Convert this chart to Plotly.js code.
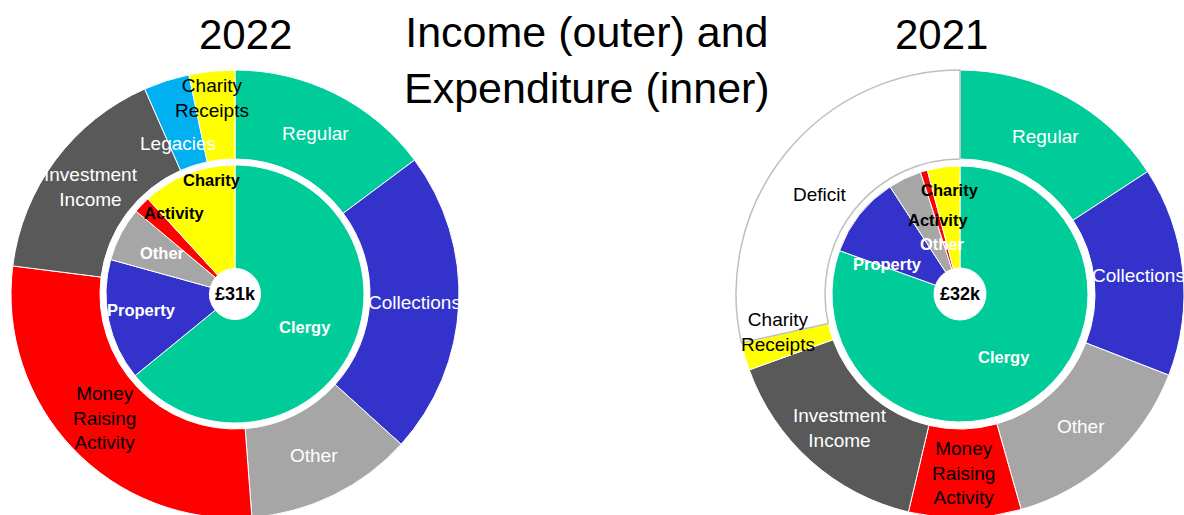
<!DOCTYPE html>
<html><head><meta charset="utf-8">
<script src="https://cdn.plot.ly/plotly-3.0.1.min.js"></script>
<style>
html,body{margin:0;padding:0;background:#fff;overflow:hidden}
#wrap{width:1184px;height:515px;overflow:hidden;position:relative}
#chart{width:1184px;height:540px}
</style>
</head><body><div id="wrap"><div id="chart"></div></div>
<script>
// ---------- data (shares of each ring, %) ----------
const years = ['2022', '2021'];
const totals = ['£31k', '£32k'];

const outerLabels2022 = ['Regular', 'Collections', 'Other', 'Money<br>Raising<br>Activity', 'Investment<br>Income', 'Legacies', 'Charity<br>Receipts'];
const outerValues2022 = [14.8, 21.9, 12.1, 28.2, 16.4, 3.3, 3.3];
const innerLabels2022 = ['Clergy', 'Property', 'Other', 'Activity', 'Charity'];
const innerValues2022 = [64.1, 15.2, 6.8, 2.1, 11.8];

const outerLabels2021 = ['Regular', 'Collections', 'Other', 'Money<br>Raising<br>Activity', 'Investment<br>Income', 'Charity<br>Receipts', 'Deficit'];
const outerValues2021 = [15.8, 15.1, 14.7, 8.1, 15.8, 2.0, 28.5];
const innerLabels2021 = ['Clergy', 'Property', 'Other', 'Activity', 'Charity'];
const innerValues2021 = [80.5, 10.3, 4.2, 0.9, 4.1];

// ---------- styles ----------
const COL = {
  'Regular': '#00CC99', 'Collections': '#3333CC', 'Other': '#A6A6A6',
  'Money Raising Activity': '#FF0000', 'Investment Income': '#595959',
  'Legacies': '#00B0F0', 'Charity Receipts': '#FFFF00', 'Deficit': '#FFFFFF',
  'Clergy': '#00CC99', 'Property': '#3333CC', 'Activity': '#FF0000', 'Charity': '#FFFF00'
};
const DARK_TEXT = ['Money Raising Activity', 'Charity Receipts', 'Deficit', 'Activity', 'Charity'];

const W = 1184, H = 540;
const FONT = '"Liberation Sans", Arial, sans-serif';
const geom = [
  {cx: 235, cy: 294, R: 224, Rin: 135, r: 129, rh: 25.5},
  {cx: 960, cy: 294, R: 224, Rin: 135, r: 128, rh: 26}
];
// manual label nudges (px), as in the original layout
const nudge = [
  {outer: {'Legacies': [-2, 20], 'Charity Receipts': [-4, -17]},
   inner: {'Property': [-18, 0], 'Other': [-4, -5], 'Activity': [-5, -28], 'Charity': [5, -42]}},
  {outer: {'Charity Receipts': [-10, -12], 'Deficit': [0, 13]},
   inner: {'Property': [-12, 18], 'Other': [16, 19], 'Charity': [0, -28]}}
];

const plain = s => s.replace(/<br>/g, ' ');
const px2x = x => x / W, px2y = y => 1 - y / H;

function domainFor(cx, cy, r) {
  return {x: [px2x(cx - r), px2x(cx + r)], y: [px2y(cy + r), px2y(cy - r)]};
}

function pieTrace(labels, values, g, outer) {
  const names = labels.map(plain);
  const rr = outer ? g.R : g.r;
  return {
    type: 'pie', labels: names, values: values, sort: false, direction: 'clockwise', rotation: 0,
    hole: outer ? g.Rin / g.R : g.rh / g.r,
    domain: domainFor(g.cx, g.cy, rr),
    textinfo: 'none', textposition: 'none', hoverinfo: 'label+percent', showlegend: false,
    marker: {
      colors: names.map(n => COL[n]),
      line: {color: names.map(n => n === 'Deficit' ? '#BFBFBF' : '#FFFFFF'),
             width: names.map(n => n === 'Deficit' ? 1.5 : 1)}
    }
  };
}

function labelAnns(labels, values, g, outer, nd) {
  const total = values.reduce((a, b) => a + b, 0);
  const rm = outer ? (g.R + g.Rin) / 2 : (g.r + g.rh) / 2;
  let cum = 0;
  return labels.map((lab, i) => {
    const mid = (cum + values[i] / 2) / total * 2 * Math.PI;
    cum += values[i];
    const n = nd[plain(lab)] || [0, 0];
    const x = g.cx + rm * Math.sin(mid) + n[0];
    const y = g.cy - rm * Math.cos(mid) + n[1];
    const dark = DARK_TEXT.includes(plain(lab));
    return {
      xref: 'paper', yref: 'paper', x: px2x(x), y: px2y(y), xanchor: 'center', yanchor: 'middle',
      text: outer ? lab : '<b>' + lab + '</b>', showarrow: false,
      font: {family: FONT, size: outer ? 19 : 16.5, color: dark ? '#000000' : '#FFFFFF'}
    };
  });
}

const sets = [
  [outerLabels2022, outerValues2022, innerLabels2022, innerValues2022],
  [outerLabels2021, outerValues2021, innerLabels2021, innerValues2021]
];

const data = [];
let annotations = [];
sets.forEach((s, k) => {
  const g = geom[k];
  data.push(pieTrace(s[0], s[1], g, true));
  data.push(pieTrace(s[2], s[3], g, false));
  annotations = annotations.concat(labelAnns(s[0], s[1], g, true, nudge[k].outer));
  annotations = annotations.concat(labelAnns(s[2], s[3], g, false, nudge[k].inner));
  annotations.push({xref: 'paper', yref: 'paper', x: px2x(g.cx), y: px2y(g.cy), xanchor: 'center', yanchor: 'middle',
    text: '<b>' + totals[k] + '</b>', showarrow: false, font: {family: FONT, size: 18, color: '#000000'}});
});

// titles
annotations.push({xref: 'paper', yref: 'paper', x: px2x(246), y: px2y(35), xanchor: 'center', yanchor: 'middle',
  text: years[0], showarrow: false, font: {family: FONT, size: 42, color: '#000000'}});
annotations.push({xref: 'paper', yref: 'paper', x: px2x(941), y: px2y(35), xanchor: 'center', yanchor: 'middle',
  text: years[1], showarrow: false, font: {family: FONT, size: 42, color: '#000000'}});
annotations.push({xref: 'paper', yref: 'paper', x: px2x(587), y: px2y(60), xanchor: 'center', yanchor: 'middle',
  text: 'Income (outer) and<br>Expenditure (inner)', showarrow: false, font: {family: FONT, size: 43, color: '#000000'}});

const layout = {
  width: W, height: H, margin: {l: 0, r: 0, t: 0, b: 0},
  paper_bgcolor: '#FFFFFF', plot_bgcolor: '#FFFFFF',
  showlegend: false, annotations: annotations
};
Plotly.newPlot('chart', data, layout, {displayModeBar: false, staticPlot: true});
</script></body></html>
